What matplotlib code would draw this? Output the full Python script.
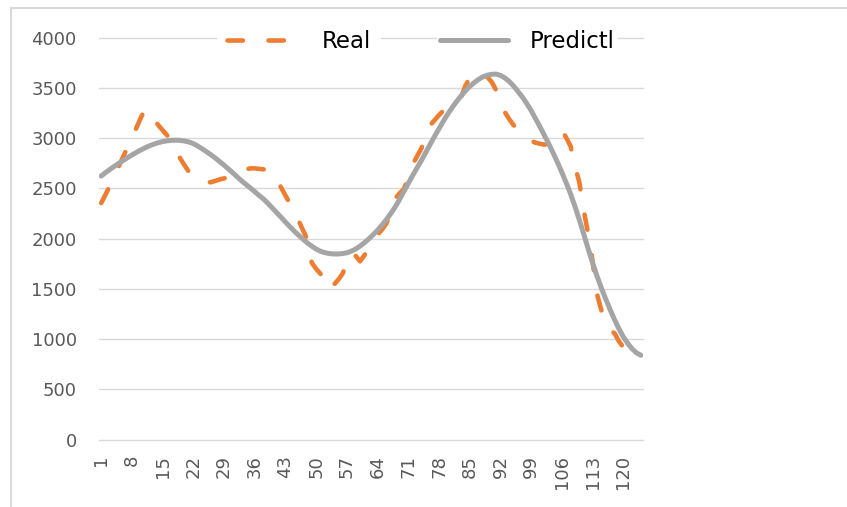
import numpy as np
import matplotlib
matplotlib.use("Agg")
import matplotlib.pyplot as plt
from matplotlib.lines import Line2D

# data (index 1..124)
real = [
    2355, 2440, 2530, 2625, 2720, 2815, 2910, 3005, 3100, 3200,
    3290, 3250, 3190, 3130, 3080, 3030, 2970, 2880, 2800, 2730,
    2665, 2620, 2590, 2570, 2560, 2562, 2575, 2590, 2600, 2612,
    2630, 2650, 2670, 2690, 2700, 2700, 2695, 2690, 2685, 2660,
    2590, 2510, 2430, 2350, 2270, 2180, 2085, 1990, 1760, 1700,
    1650, 1550, 1495, 1540, 1590, 1650, 1760, 1860, 1830, 1775,
    1835, 1920, 1985, 2040, 2090, 2150, 2270, 2400, 2450, 2495,
    2600, 2740, 2820, 2900, 3000, 3130, 3180, 3230, 3275, 3310,
    3340, 3360, 3400, 3520, 3600, 3630, 3650, 3660, 3610, 3560,
    3480, 3350, 3260, 3190, 3130, 3085, 3045, 3010, 2975, 2955,
    2945, 2935, 2950, 3000, 3065, 3080, 3005, 2920, 2720, 2560,
    2280, 2050, 1780, 1450, 1290, 1190, 1090, 1060, 980, 920,
    None, None, None, None,
]
predicted = [
    2624, 2658, 2690, 2720, 2750, 2778, 2806, 2833, 2858, 2882,
    2904, 2924, 2941, 2955, 2966, 2974, 2979, 2980, 2978, 2972,
    2962, 2946, 2922, 2895, 2866, 2835, 2803, 2768, 2732, 2694,
    2655, 2615, 2575, 2540, 2505, 2468, 2430, 2395, 2352, 2306,
    2260, 2213, 2166, 2120, 2076, 2034, 1995, 1958, 1925, 1897,
    1875, 1861, 1852, 1848, 1848, 1852, 1860, 1875, 1897, 1926,
    1960, 1998, 2040, 2085, 2135, 2190, 2250, 2315, 2390, 2470,
    2550, 2630, 2705, 2780, 2860, 2940, 3020, 3095, 3170, 3240,
    3305, 3365, 3420, 3470, 3515, 3552, 3585, 3610, 3627, 3636,
    3638, 3625, 3600, 3565, 3520, 3465, 3410, 3345, 3275, 3195,
    3115, 3030, 2945, 2855, 2760, 2660, 2555, 2445, 2320, 2185,
    2045, 1900, 1760, 1630, 1510, 1400, 1295, 1195, 1105, 1025,
    960, 905, 865, 840,
]
x = np.arange(1, len(predicted) + 1)
x_ticks = list(range(1, 121, 7))
y_ticks = list(range(0, 4001, 500))

orange = "#ED7D31"
gray = "#A5A5A5"
label_color = "#595959"

fig = plt.figure(figsize=(8.47, 5.07), dpi=100)
ax = fig.add_axes([99 / 847, 1 - 439.7 / 507, 544 / 847, 402 / 507])

real_arr = np.array([np.nan if v is None else v for v in real], dtype=float)
l_real, = ax.plot(x, real_arr, color=orange, lw=3.3, dashes=(3.35, 5.6),
                  dash_capstyle="round", solid_joinstyle="round", label="Real", zorder=3)
l_pred, = ax.plot(x, predicted, color=gray, lw=3.6, solid_capstyle="round",
                  solid_joinstyle="round", label="Predictl", zorder=4)

ax.set_xlim(0.5, len(predicted) + 0.5)
ax.set_ylim(0, 4000)
ax.set_yticks(y_ticks)
ax.set_xticks(x_ticks)
ax.set_xticklabels([str(t) for t in x_ticks], rotation=90)
ax.grid(axis="y", color="#D9D9D9", lw=1.0)
for gl in ax.get_ygridlines():
    gl.set_clip_on(False)
ax.set_axisbelow(True)
for s in ax.spines.values():
    s.set_visible(False)
ax.tick_params(axis="both", length=0, labelsize=13, labelcolor=label_color)
ax.tick_params(axis="y", pad=16)
ax.tick_params(axis="x", pad=11)

# two separate legend entries, like the reference
leg1 = ax.legend(handles=[l_real], loc="center left", bbox_to_anchor=((217 - 99) / 544, 0.9905),
                 borderaxespad=0, borderpad=0.45, handlelength=2.65, handletextpad=1.45,
                 fontsize=16.5, frameon=True, facecolor="white", edgecolor="none", framealpha=1)
for t in leg1.get_texts():
    t.set_color("black")
ax.add_artist(leg1)
leg2 = ax.legend(handles=[l_pred], loc="center left", bbox_to_anchor=((437 - 99) / 544, 0.9905),
                 borderaxespad=0, borderpad=0.15, handlelength=2.95, handletextpad=0.95,
                 fontsize=16.5, frameon=True, facecolor="white", edgecolor="none", framealpha=1)
for t in leg2.get_texts():
    t.set_color("black")

# outer chart frame (left and top edges visible in the crop)
fig.add_artist(Line2D([11 / 847, 11 / 847], [0, 1 - 8 / 507], color="#D9D9D9", lw=1.5,
                      transform=fig.transFigure))
fig.add_artist(Line2D([11 / 847, 1.01], [1 - 8 / 507, 1 - 8 / 507], color="#D9D9D9", lw=1.5,
                      transform=fig.transFigure))

fig.savefig("out.png", dpi=100, facecolor="white")
